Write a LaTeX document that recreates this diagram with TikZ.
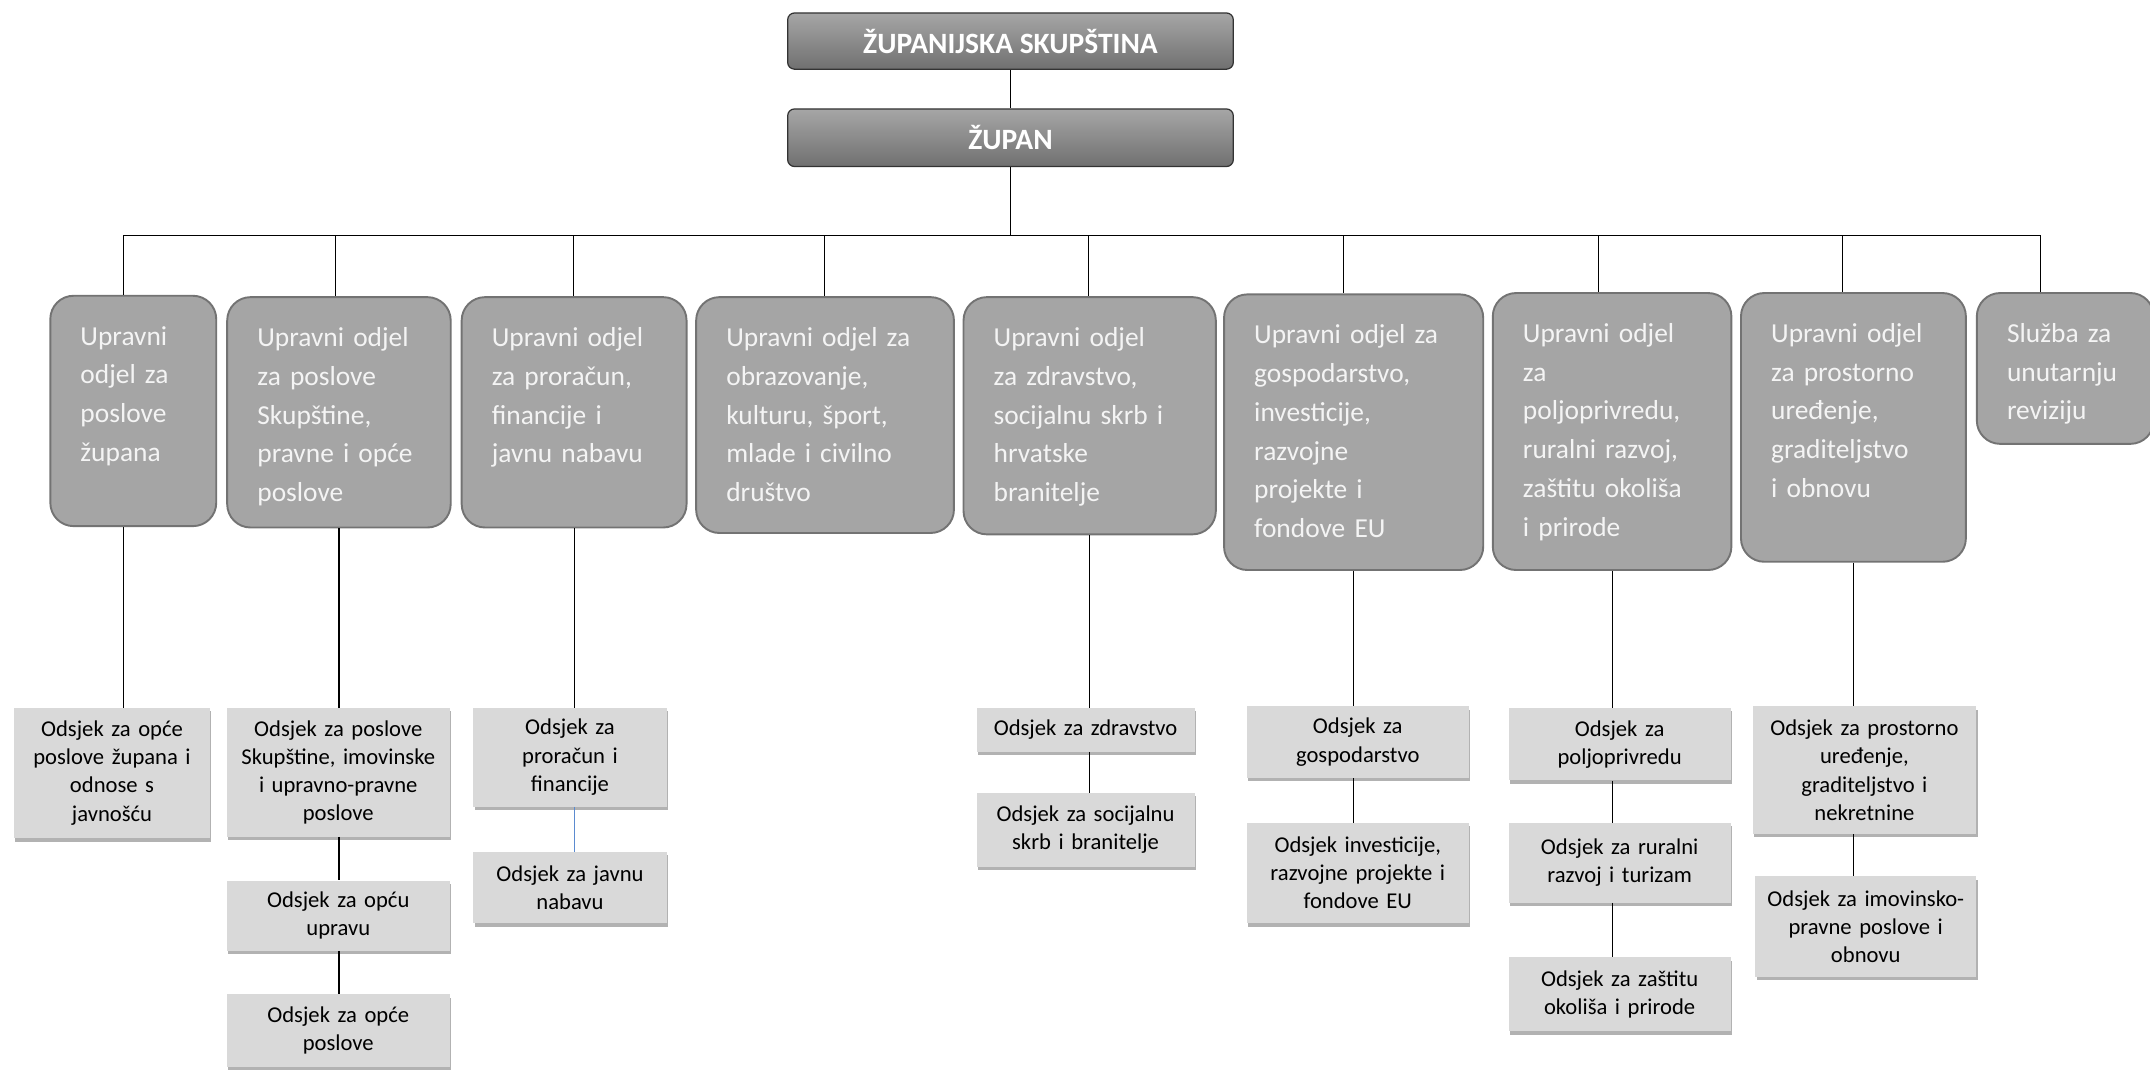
\documentclass[tikz,border=0pt]{standalone}
\usepackage{fontspec}
\setmainfont{Carlito}
\usepackage{tikz}
\usetikzlibrary{shadows}
\definecolor{deptgray}{HTML}{A5A5A5}
\definecolor{deptedge}{HTML}{737373}
\definecolor{deptwhite}{HTML}{F4F4F4}
\definecolor{secgray}{HTML}{D9D9D9}
\definecolor{headtop}{HTML}{A6A6A6}
\definecolor{headbottom}{HTML}{707070}
\definecolor{linkblue}{HTML}{5B8BD0}

\begin{document}
\begin{tikzpicture}[
		x=1pt, y=-1pt,
		head/.style={draw=black!80, line width=0.9pt, rounded corners=5pt,
			top color=headtop, bottom color=headbottom, text=white,
			font=\fontsize{21.5}{25}\selectfont\bfseries, anchor=north west, inner sep=0pt},
		dept/.style={draw=deptedge, fill=deptgray, line width=1.4pt, rounded corners=17pt,
			text=deptwhite, font=\fontsize{20}{28.3}\selectfont, align=left,
			anchor=north west, inner xsep=22pt, inner ysep=10pt, text height=26pt},
		sec/.style={fill=secgray, drop shadow={shadow xshift=1pt, shadow yshift=-2.5pt, fill=black, opacity=0.3},
			font=\fontsize{16.5}{20.5}\selectfont, align=center, anchor=north west, inner sep=0pt},
		link/.style={draw=black, line width=0.8pt}
	]
	\useasboundingbox (0,0) rectangle (1568,779.7);

	% top
	\node[head, minimum width=325pt, minimum height=41pt] (zupsk) at (574,9)
		{ŽUPANIJSKA SKUPŠTINA};
	\node[head, minimum width=325pt, minimum height=42pt] (zupan) at (574,79)
		{ŽUPAN};

	% upravni odjeli
	\node[dept, text width=77pt, text depth=122pt] (u1) at (36,215)
		{Upravni\\odjel za\\poslove\\župana};
	\node[dept, text width=119pt, text depth=122pt] (u2) at (165,216)
		{Upravni odjel\\za poslove\\Skupštine,\\pravne i opće\\poslove};
	\node[dept, text width=120pt, text depth=122pt] (u3) at (336,216)
		{Upravni odjel\\za proračun,\\financije i\\javnu nabavu};
	\node[dept, text width=144pt, text depth=126pt] (u4) at (507,216)
		{Upravni odjel za\\obrazovanje,\\kulturu, šport,\\mlade i civilno\\društvo};
	\node[dept, text width=140pt, text depth=127pt] (u5) at (702,216)
		{Upravni odjel\\za zdravstvo,\\socijalnu skrb i\\hrvatske\\branitelje};
	\node[dept, text width=145pt, text depth=155pt] (u6) at (892,214)
		{Upravni odjel za\\gospodarstvo,\\investicije,\\razvojne\\projekte i\\fondove EU};
	\node[dept, text width=130pt, text depth=156pt] (u7) at (1088,213)
		{Upravni odjel\\za\\poljoprivredu,\\ruralni razvoj,\\zaštitu okoliša\\i prirode};
	\node[dept, text width=120pt, text depth=150pt] (u8) at (1269,213)
		{Upravni odjel\\za prostorno\\uređenje,\\graditeljstvo\\i obnovu};
	\node[dept, text width=85pt, text depth=64pt] (u9) at (1441,213)
		{Služba za\\unutarnju\\reviziju};

	% odsjeci
	\node[sec, minimum width=143pt, minimum height=95pt, text width=137pt] (o1) at (10,516)
		{Odsjek za opće\\poslove župana i\\odnose s\\javnošću};
	\node[sec, minimum width=163pt, minimum height=94pt, text width=159pt] (o2a) at (165,516)
		{Odsjek za poslove\\Skupštine, imovinske\\i upravno-pravne\\poslove};
	\node[sec, minimum width=163pt, minimum height=51pt, text width=155pt] (o2b) at (165,642)
		{Odsjek za opću\\upravu};
	\node[sec, minimum width=163pt, minimum height=53pt, text width=155pt] (o2c) at (165,725)
		{Odsjek za opće\\poslove};
	\node[sec, minimum width=141pt, minimum height=72pt, text width=135pt] (o3a) at (345,516)
		{Odsjek za\\proračun i\\financije};
	\node[sec, minimum width=141pt, minimum height=52pt, text width=135pt] (o3b) at (345,621)
		{Odsjek za javnu\\nabavu};
	\node[sec, minimum width=159pt, minimum height=32pt, text width=153pt] (o5a) at (712,516)
		{Odsjek za zdravstvo};
	\node[sec, minimum width=159pt, minimum height=54pt, text width=153pt] (o5b) at (712,578)
		{Odsjek za socijalnu\\skrb i branitelje};
	\node[sec, minimum width=162pt, minimum height=52pt, text width=156pt] (o6a) at (909,515)
		{Odsjek za\\gospodarstvo};
	\node[sec, minimum width=162pt, minimum height=73pt, text width=156pt] (o6b) at (909,600)
		{Odsjek investicije,\\razvojne projekte i\\fondove EU};
	\node[sec, minimum width=162pt, minimum height=53pt, text width=156pt] (o7a) at (1100,516)
		{Odsjek za\\poljoprivredu};
	\node[sec, minimum width=162pt, minimum height=58pt, text width=156pt] (o7b) at (1100,600)
		{Odsjek za ruralni\\razvoj i turizam};
	\node[sec, minimum width=162pt, minimum height=54pt, text width=156pt] (o7c) at (1100,698)
		{Odsjek za zaštitu\\okoliša i prirode};
	\node[sec, minimum width=163pt, minimum height=93pt, text width=157pt] (o8a) at (1278,515)
		{Odsjek za prostorno\\uređenje,\\graditeljstvo i\\nekretnine};
	\node[sec, minimum width=161pt, minimum height=73pt, text width=157pt] (o8b) at (1280,639)
		{Odsjek za imovinsko-\\pravne poslove i\\obnovu};

	% connectors
	\coordinate (d1) at (90,171.5);
	\coordinate (d2) at (245,171.5);
	\coordinate (d3) at (418,171.5);
	\coordinate (d4) at (601,171.5);
	\coordinate (d5) at (794,171.5);
	\coordinate (d6) at (980,171.5);
	\coordinate (d7) at (1166,171.5);
	\coordinate (d8) at (1344,171.5);
	\coordinate (d9) at (1488,171.5);

	\draw[link] (zupsk) -- (zupan);
	\draw[link] (zupan.south) -- (zupan.south |- d1);
	\draw[link] (d1) -- (d9);
	\draw[link] (d1) -- (u1.north -| d1);
	\draw[link] (d2) -- (u2.north -| d2);
	\draw[link] (d3) -- (u3.north -| d3);
	\draw[link] (d4) -- (u4.north -| d4);
	\draw[link] (d5) -- (u5.north -| d5);
	\draw[link] (d6) -- (u6.north -| d6);
	\draw[link] (d7) -- (u7.north -| d7);
	\draw[link] (d8) -- (u8.north -| d8);
	\draw[link] (d9) -- (u9.north -| d9);

	\draw[link] (u1.south -| d1) -- (o1.north -| d1);
	\draw[link] (u2.south) -- (o2a.north -| u2.south);
	\draw[link] (o2a.south -| u2.south) -- (o2b.north -| u2.south);
	\draw[link] (o2b.south -| u2.south) -- (o2c.north -| u2.south);
	\draw[link] (u3.south) -- (o3a.north -| u3.south);
	\draw[link, draw=linkblue] (o3a.south -| u3.south) -- (o3b.north -| u3.south);
	\draw[link] (u5.south) -- (o5a.north -| u5.south);
	\draw[link] (o5a.south -| u5.south) -- (o5b.north -| u5.south);
	\draw[link] (u6.south) -- (o6a.north -| u6.south);
	\draw[link] (o6a.south -| u6.south) -- (o6b.north -| u6.south);
	\draw[link] (u7.south) -- (o7a.north -| u7.south);
	\draw[link] (o7a.south -| u7.south) -- (o7b.north -| u7.south);
	\draw[link] (o7b.south -| u7.south) -- (o7c.north -| u7.south);
	\draw[link] (u8.south) -- (o8a.north -| u8.south);
	\draw[link] (o8a.south -| u8.south) -- (o8b.north -| u8.south);
\end{tikzpicture}
\end{document}
